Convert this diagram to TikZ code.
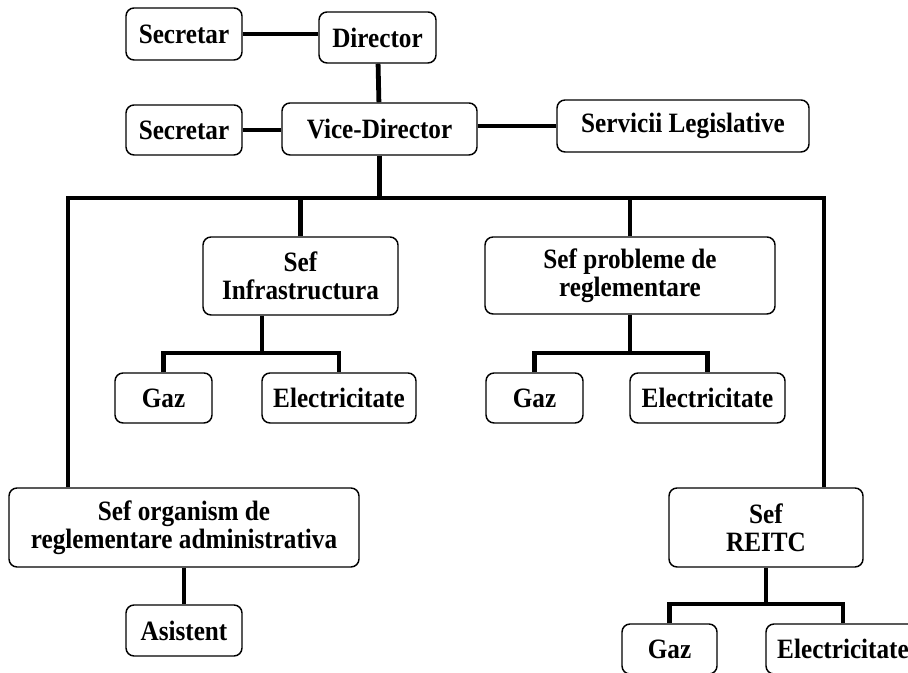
\documentclass[tikz,border=0pt]{standalone}
\usepackage{fontspec}
\setmainfont{Liberation Serif}[FakeStretch=0.9]
\begin{document}
\begin{tikzpicture}[x=0.75pt,y=-0.75pt,
  box/.style={draw,rounded corners=6pt,line width=1.1pt,inner sep=0pt,
    align=center,font=\bfseries\fontsize{21}{21}\selectfont},
  conn/.style={line width=3.6pt}]
  			\useasboundingbox (0,0) rectangle (908,673);
  			% top of the chart
  			\node[box,minimum width=87pt,minimum height=39pt] (sec1) at (184,34) {Secretar};
  			\node[box,minimum width=87.75pt,minimum height=38.25pt] (dir) at (377.5,37.5) {Director};
  			\node[box,minimum width=87pt,minimum height=37.5pt] (sec2) at (184,130) {Secretar};
  			\node[box,minimum width=146.25pt,minimum height=39pt] (vdir) at (379.5,129) {Vice-Director};
  			\node[box,minimum width=189pt,minimum height=39pt] (legis) at (683,126) {Servicii Legislative};
  			% heads of department
  			\node[box,minimum width=146.25pt,minimum height=58.5pt] (infra) at (300.5,276) {Sef\\Infrastructura};
  			\node[box,minimum width=217.5pt,minimum height=57.75pt] (probl) at (630,275.5) {Sef probleme de\\reglementare};
  			\node[box,minimum width=262.5pt,minimum height=59.25pt] (org) at (184,527.5) {Sef organism de\\reglementare administrativa};
  			\node[box,minimum width=145.5pt,minimum height=59.25pt] (reitc) at (766,527.5) {Sef\\REITC};
  			% sections
  			\node[box,minimum width=72.75pt,minimum height=37.5pt] (gaz1) at (163.5,398) {Gaz};
  			\node[box,minimum width=115.5pt,minimum height=37.5pt] (elec1) at (339,398) {Electricitate};
  			\node[box,minimum width=72.75pt,minimum height=37.5pt] (gaz2) at (534.5,398) {Gaz};
  			\node[box,minimum width=116.25pt,minimum height=37.5pt] (elec2) at (707.5,398) {Electricitate};
  			\node[box,minimum width=87pt,minimum height=38.25pt] (asist) at (184,630.5) {Asistent};
  			\node[box,minimum width=71.25pt,minimum height=37.5pt] (gaz3) at (669.5,649) {Gaz};
  			\node[box,minimum width=115.5pt,minimum height=37.5pt] (elec3) at (843,649) {Electricitate};
  			% junctions
  			\coordinate (busL) at (68,198);
  			\coordinate (busR) at (824,198);
  			\coordinate (infraJ) at (262,353);
  			\coordinate (problJ) at (630,353);
  			\coordinate (reitcJ) at (766,604);
  			\path[conn]
  			(sec1.east) edge (sec1.east -| dir.west)
  			(dir) edge (vdir)
  			(sec2.east) edge (sec2.east -| vdir.west)
  			(vdir.east |- legis.west) edge (legis.west)
  			(org) edge (asist);
  			\draw[conn] (vdir.south) -- (vdir.south |- busL);
  			\draw[conn] (org.north -| busL) -- (busL) -- (busR) -- (reitc.north -| busR);
  			\draw[conn] (infra.north) -- (infra.north |- busL);
  			\draw[conn] (probl.north) -- (probl.north |- busL);
  			\draw[conn] (infra.south -| infraJ) -- (infraJ);
  			\draw[conn] (gaz1.north) -- (gaz1.north |- infraJ) -- (elec1.north |- infraJ) -- (elec1.north);
  			\draw[conn] (probl.south) -- (problJ);
  			\draw[conn] (gaz2.north) -- (gaz2.north |- problJ) -- (elec2.north |- problJ) -- (elec2.north);
  			\draw[conn] (reitc.south) -- (reitcJ);
  			\draw[conn] (gaz3.north) -- (gaz3.north |- reitcJ) -- (elec3.north |- reitcJ) -- (elec3.north);
		\end{tikzpicture}
\end{document}
